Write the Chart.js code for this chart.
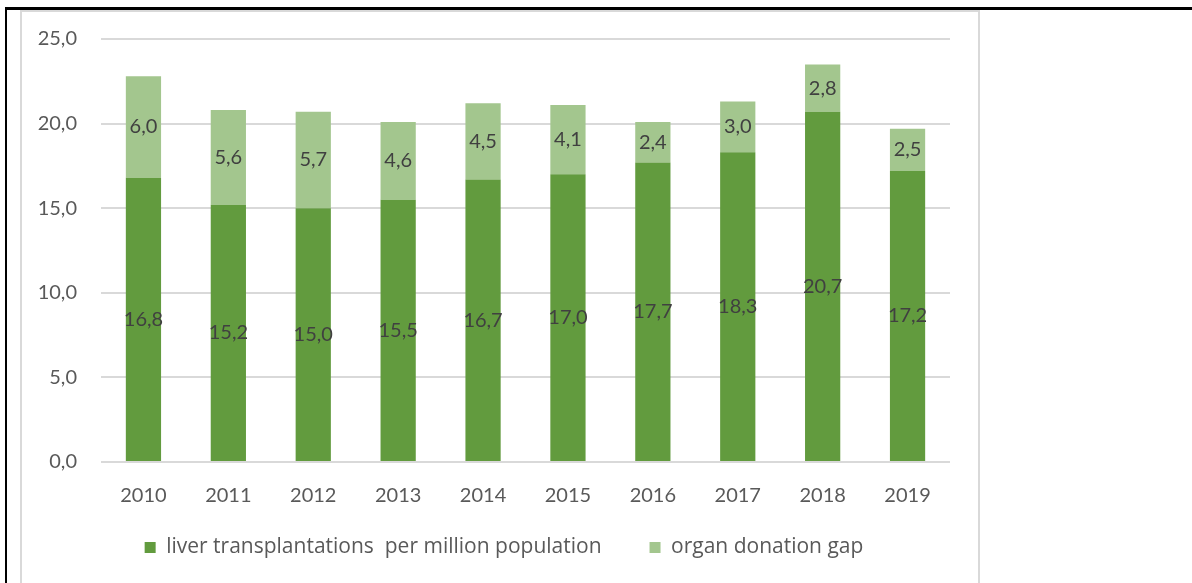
<!DOCTYPE html>
<html>
<head>
<meta charset="utf-8">
<script src="https://cdn.jsdelivr.net/npm/chart.js@4.4.1/dist/chart.umd.min.js"></script>
<style>
  body { margin: 0; background: #fff; width: 1192px; height: 583px; overflow: hidden; position: relative; }
  .frame-top { position: absolute; left: 5px; top: 7px; width: 1187px; height: 3px; background: #000; }
  .frame-left { position: absolute; left: 5px; top: 7px; width: 2px; height: 576px; background: #000; }
  .box { position: absolute; left: 20px; top: 10px; width: 956px; height: 600px; border: 2px solid #d9d9d9; border-bottom: none; }
  #chart { position: absolute; left: 22px; top: 12px; }
</style>
</head>
<body>
<div class="frame-top"></div>
<div class="frame-left"></div>
<div class="box"></div>
<canvas id="chart" width="956" height="600"></canvas>
<script>
const years = ["2010", "2011", "2012", "2013", "2014", "2015", "2016", "2017", "2018", "2019"];
const transplants = [16.8, 15.2, 15.0, 15.5, 16.7, 17.0, 17.7, 18.3, 20.7, 17.2];
const donationGap = [6.0, 5.6, 5.7, 4.6, 4.5, 4.1, 2.4, 3.0, 2.8, 2.5];
const yTicks = [0, 5, 10, 15, 20, 25];

const FONT = "Lato, 'Open Sans', sans-serif";
const fmt = (v) => v.toFixed(1).replace(".", ",");

// labels in the middle of every segment
const segmentLabels = {
  id: "segmentLabels",
  afterDatasetsDraw(chart) {
    const ctx = chart.ctx;
    ctx.save();
    ctx.font = "20px " + FONT;
    ctx.fillStyle = "#404040";
    ctx.textAlign = "center";
    ctx.textBaseline = "middle";
    chart.data.datasets.forEach((ds, i) => {
      chart.getDatasetMeta(i).data.forEach((bar, j) => {
        ctx.fillText(fmt(ds.data[j]), bar.x, (bar.y + bar.base) / 2);
      });
    });
    ctx.restore();
  },
};

// nudge the legend box after layout
const legendOffset = {
  id: "legendOffset",
  afterLayout(chart, args, opts) {
    const lg = chart.legend;
    lg.left += opts.dx; lg.right += opts.dx;
    lg.top += opts.dy; lg.bottom += opts.dy;
  },
};

new Chart(document.getElementById("chart"), {
  type: "bar",
  data: {
    labels: years,
    datasets: [
      {
        label: "liver transplantations  per million population",
        data: transplants,
        backgroundColor: "#629b3e",
      },
      {
        label: "organ donation gap",
        data: donationGap,
        backgroundColor: "#a3c68e",
      },
    ],
  },
  options: {
    responsive: false,
    animation: false,
    layout: { padding: { top: 27, left: 0, right: 28, bottom: 27 } },
    datasets: { bar: { categoryPercentage: 1, barPercentage: 0.415 } },
    scales: {
      x: {
        stacked: true,
        afterFit: (scale) => { scale.height = 44; },
        grid: { display: false },
        border: { display: false },
        ticks: { color: "#595959", font: { family: FONT, size: 20 }, padding: 14 },
      },
      y: {
        stacked: true,
        min: 0,
        max: 25,
        afterFit: (scale) => {
          scale.width = 79;
          scale.paddingTop = 0;
          scale.paddingBottom = 0;
        },
        afterBuildTicks: (scale) => { scale.ticks = yTicks.map((v) => ({ value: v })); },
        grid: { color: "#d9d9d9", lineWidth: 2, drawTicks: false },
        border: { display: false },
        ticks: {
          color: "#595959",
          font: { family: FONT, size: 20 },
          padding: 24,
          callback: (v) => fmt(v),
        },
      },
    },
    plugins: {
      legend: {
        position: "bottom",
        labels: {
          boxWidth: 11,
          boxHeight: 11,
          padding: 48,
          color: "#595959",
          font: { family: "'Open Sans', Lato, sans-serif", size: 21 },
        },
      },
      legendOffset: { dx: 18, dy: -17 },
      tooltip: { enabled: false },
    },
  },
  plugins: [segmentLabels, legendOffset],
});
</script>
</body>
</html>
